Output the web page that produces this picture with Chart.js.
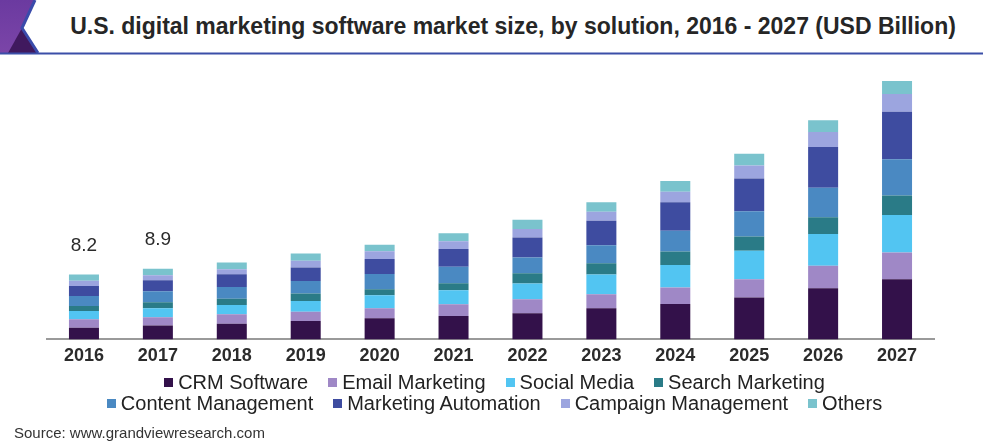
<!DOCTYPE html>
<html>
<head>
<meta charset="utf-8">
<script src="https://cdn.jsdelivr.net/npm/chart.js@4.4.1/dist/chart.umd.min.js"></script>
<style>
  html, body { margin: 0; padding: 0; background: #ffffff; }
  body { width: 983px; height: 445px; position: relative; overflow: hidden; font-family: "Liberation Sans", Arial, sans-serif; }
  #hdr { position: absolute; left: 0; top: 0; }
  #title { position: absolute; left: 43px; width: 940px; top: 12px; text-align: center; font-weight: bold; font-size: 23px; line-height: 28px; color: #262626; white-space: nowrap; }
  #wrap { position: absolute; left: 0; top: 0; width: 983px; height: 445px; }
  #legend { position: absolute; left: 3px; width: 983px; top: 372px; color: #222; font-size: 20px; }
  .row { display: flex; justify-content: center; height: 21px; line-height: 21px; align-items: center; }
  .item { display: flex; align-items: center; margin: 0 10px; white-space: nowrap; }
  .sw { width: 9px; height: 9px; margin-right: 5px; display: inline-block; }
  #source { position: absolute; left: 14px; top: 424px; font-size: 15px; line-height: 17px; color: #333; }
</style>
</head>
<body>
<svg id="hdr" width="983" height="60" viewBox="0 0 983 60">
  <defs>
    <linearGradient id="pg" x1="0" y1="0" x2="0" y2="1">
      <stop offset="0" stop-color="#6b3aa0"/>
      <stop offset="1" stop-color="#7b45a8"/>
    </linearGradient>
  </defs>
  <polygon points="0,0 35,0 22,28 38,53 0,53" fill="url(#pg)"/>
  <polygon points="8,53 22,28 37,53" fill="#40195e"/>
  <polyline points="35,0 22,28 38,53" fill="none" stroke="#3a4bab" stroke-width="3"/>
  <line x1="0" y1="53.5" x2="983" y2="53.5" stroke="#3b4fa8" stroke-width="2"/>
</svg>
<div id="title">U.S. digital marketing software market size, by solution, 2016 - 2027 (USD Billion)</div>
<div id="wrap"><canvas id="c" width="983" height="445"></canvas></div>
<div id="legend"></div>
<div id="source">Source: www.grandviewresearch.com</div>
<script>
const categories = ['2016','2017','2018','2019','2020','2021','2022','2023','2024','2025','2026','2027'];
const crmSoftware        = [1.48,1.74,1.98,2.32,2.66,2.95,3.29,3.92,4.47,5.27,6.46,7.59];
const emailMarketing     = [1.05,1.06,1.18,1.18,1.27,1.48,1.77,1.77,2.07,2.32,2.83,3.38];
const socialMedia        = [1.05,1.14,1.18,1.35,1.65,1.77,1.98,2.49,2.83,3.59,4.01,4.73];
const searchMarketing    = [0.63,0.76,0.80,0.93,0.76,0.89,1.31,1.43,1.73,1.81,2.11,2.45];
const contentManagement  = [1.26,1.36,1.48,1.60,1.90,2.07,1.98,2.28,2.62,3.16,3.71,4.56];
const marketingAutomation= [1.26,1.40,1.60,1.69,1.90,2.24,2.53,3.08,3.59,4.14,5.15,5.99];
const campaignManagement = [0.67,0.64,0.63,0.84,0.97,0.97,1.05,1.14,1.31,1.65,1.90,2.24];
const others             = [0.80,0.80,0.84,0.93,0.84,1.01,1.18,1.18,1.35,1.48,1.48,1.65];
const totalLabels = ['8.2','8.9','','','','','','','','','',''];

const seriesNames = ['CRM Software','Email Marketing','Social Media','Search Marketing','Content Management','Marketing Automation','Campaign Management','Others'];
const seriesData = [crmSoftware, emailMarketing, socialMedia, searchMarketing, contentManagement, marketingAutomation, campaignManagement, others];
const seriesColors = ['#33114a','#9f88c6','#52c5f2','#2a7b87','#4a89c2','#3e4ca0','#9ca5df','#7ac3cd'];

const totalsPlugin = {
  id: 'totals',
  afterDatasetsDraw(chart) {
    const ctx = chart.ctx, xs = chart.scales.x, ys = chart.scales.y;
    ctx.save();
    ctx.font = '19px "Liberation Sans", Arial, sans-serif';
    ctx.fillStyle = '#2a2a2a';
    ctx.textAlign = 'center';
    ctx.textBaseline = 'middle';
    categories.forEach((c, i) => {
      if (!totalLabels[i]) return;
      const tot = chart.data.datasets.reduce((s, d) => s + d.data[i], 0);
      ctx.fillText(totalLabels[i], xs.getPixelForValue(i), ys.getPixelForValue(tot) - 29);
    });
    ctx.restore();
  }
};

const chart = new Chart(document.getElementById('c'), {
  type: 'bar',
  data: {
    labels: categories,
    datasets: seriesNames.map((n, i) => ({
      label: n, data: seriesData[i], backgroundColor: seriesColors[i], borderWidth: 0
    }))
  },
  options: {
    responsive: false,
    animation: false,
    layout: { padding: { left: 47, right: 49, top: 54, bottom: 72 } },
    datasets: { bar: { categoryPercentage: 1, barPercentage: 0.406 } },
    plugins: { legend: { display: false }, tooltip: { enabled: false } },
    scales: {
      x: {
        stacked: true,
        grid: { display: false, drawTicks: false },
        border: { display: true, color: '#9a9a9a', width: 2 },
        ticks: { color: '#2b2b2b', font: { family: '"Liberation Sans", Arial, sans-serif', size: 18, weight: 'bold' }, padding: 6 }
      },
      y: { stacked: true, display: false, min: 0, max: 36 }
    }
  },
  plugins: [totalsPlugin]
});

const legend = document.getElementById('legend');
[[0,1,2,3],[4,5,6,7]].forEach(rowIdx => {
  const row = document.createElement('div');
  row.className = 'row';
  rowIdx.forEach(i => {
    const it = document.createElement('span');
    it.className = 'item';
    const sw = document.createElement('span');
    sw.className = 'sw';
    sw.style.background = seriesColors[i];
    it.appendChild(sw);
    it.appendChild(document.createTextNode(seriesNames[i]));
    row.appendChild(it);
  });
  legend.appendChild(row);
});
</script>
</body>
</html>
